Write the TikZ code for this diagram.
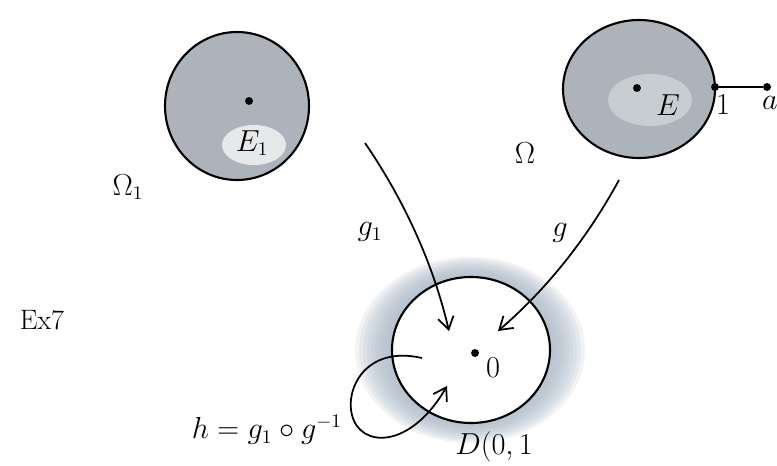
\documentclass[tikz,border=0pt]{standalone}
\usepackage{tikz}
\usetikzlibrary{arrows.meta, positioning, calc}
\definecolor{pencil}{RGB}{172,179,187}
\definecolor{pencilhalo}{RGB}{165,180,195}

\tikzset{
  lbl/.style={font=\fontsize{16}{19}\selectfont, inner sep=1pt},
  rim/.style={line width=1.2pt},
  dot/.style={circle, fill=black, inner sep=0pt, minimum size=4.5pt},
  maparrow/.style={line width=1pt, -{Straight Barb[length=7pt,width=9pt]}}
}

\begin{document}
\begin{tikzpicture}[x=0.02cm, y=-0.02cm]
\useasboundingbox (0,0) rectangle (777,466);

% domain Omega_1 with E_1
\fill[pencil] (237,106) ellipse [x radius=72, y radius=74];
\fill[white, opacity=.7] (254,145) ellipse [x radius=32, y radius=20];
\draw[rim] (237,106) ellipse [x radius=72, y radius=74];
\node[dot] (c1) at (249,101) {};
\node[lbl] (E1) at (252,143) {$E_1$};
\node[lbl] (Om1) at (128,187) {$\Omega_1$};

% domain Omega with E
\fill[pencil] (639,89) ellipse [x radius=76, y radius=69];
\fill[white, opacity=.35] (650,100) ellipse [x radius=42, y radius=26];
\draw[rim] (639,89) ellipse [x radius=76, y radius=69];
\node[dot] (c) at (637,88) {};
\node[lbl] (E) at (668,105) {$E$};
\node[dot] (one) at (715,87) {};
\node[dot] (a) at (767,87) {};
\draw[rim] (one) -- (a);
\node[lbl] (lone) at (723,105) {$1$};
\node[lbl] (la) at (770,103) {$a$};
\node[lbl] (Om) at (525,153) {$\Omega$};

% unit disk with halo
\foreach \d in {0,4,...,36} {
  \pgfmathsetmacro\rx{79+\d}
  \pgfmathsetmacro\ry{73+\d*0.56}
  \fill[pencilhalo, opacity=.16] (470,350) ellipse [x radius=\rx, y radius=\ry];
}
\fill[white] (471,350) ellipse [x radius=79, y radius=73];
\draw[rim] (471,350) ellipse [x radius=79, y radius=73];
\node[dot] (c0) at (475,353) {};
\node[lbl] (zero) at (493,368) {$0$};
\node[lbl] (Dlbl) at (494,447) {$D(0,1$};

% maps g_1 and g
\coordinate (g1s) at (365,143);
\coordinate (g1e) at (449,331);
\draw[maparrow] (g1s) .. controls (404,200) and (433,263) .. (g1e);
\node[lbl] (g1) at (370,232) {$g_1$};
\coordinate (gs) at (619,180);
\coordinate (ge) at (498,331);
\draw[maparrow] (gs) .. controls (588,237) and (548,288) .. (ge);
\node[lbl] (g) at (560,233) {$g$};

% self map h
\coordinate (hs) at (422,358);
\coordinate (he) at (447,386);
\draw[maparrow] (hs) .. controls (365,345) and (345,390) .. (352,415)
  .. controls (360,448) and (410,450) .. (he);
\node[lbl, anchor=east] (h) at (344,430) {$h=g_1\circ g^{-1}$};

\node[lbl] (ex) at (42,320) {Ex7};
\end{tikzpicture}
\end{document}
